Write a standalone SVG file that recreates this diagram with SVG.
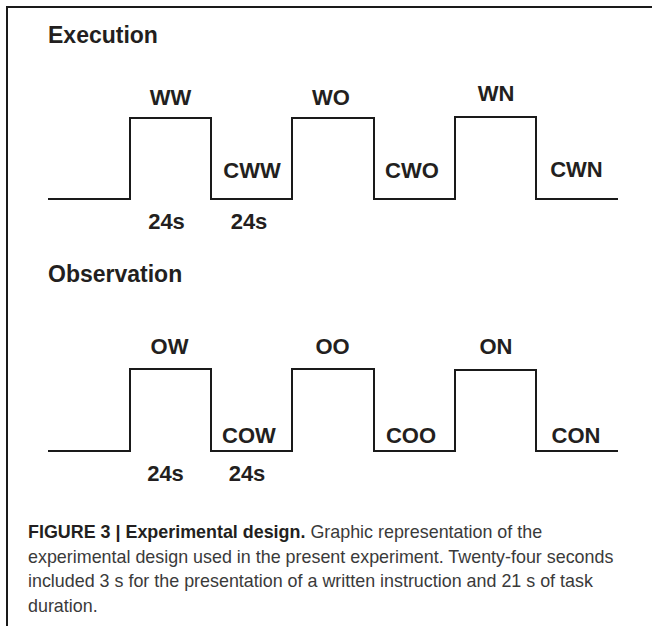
<svg xmlns="http://www.w3.org/2000/svg" width="657" height="626" viewBox="0 0 657 626">
  <style>
    .wave { fill: none; stroke: #1a1a1a; stroke-width: 2; stroke-linejoin: miter; }
    .frame { fill: none; stroke: #1a1a1a; stroke-width: 2; }
    .title { font-family: "Liberation Sans", Arial, Helvetica, sans-serif; font-weight: bold; font-size: 23px; fill: #231f20; }
    .lbl { font-family: "Liberation Sans", Arial, Helvetica, sans-serif; font-weight: bold; font-size: 22px; fill: #231f20; text-anchor: middle; }
    .cap { font-family: "Liberation Sans", Arial, Helvetica, sans-serif; font-size: 17.9px; fill: #3a3a3a; }
    .capb { font-weight: bold; fill: #231f20; }
  </style>
  <rect width="657" height="626" fill="#ffffff"/>
  <path class="frame" d="M7,627 V7 H652"/>

  <g id="execution">
    <text class="title" x="48" y="43">Execution</text>
    <g id="connectors-execution">
      <path class="wave" d="M48,199 H130 V118 H211 V199 H292 V118 H374 V199 H455 V117 H536 V199 H618"/>
    </g>
    <g id="WW"><text class="lbl" x="170.5" y="105">WW</text></g>
    <g id="WO"><text class="lbl" x="331" y="105">WO</text></g>
    <g id="WN"><text class="lbl" x="496" y="101">WN</text></g>
    <g id="CWW"><text class="lbl" x="252" y="178">CWW</text></g>
    <g id="CWO"><text class="lbl" x="412" y="178">CWO</text></g>
    <g id="CWN"><text class="lbl" x="576.5" y="177">CWN</text></g>
    <g id="exec-24s-a"><text class="lbl" x="166.5" y="229">24s</text></g>
    <g id="exec-24s-b"><text class="lbl" x="249" y="229">24s</text></g>
  </g>

  <g id="observation">
    <text class="title" x="48" y="282">Observation</text>
    <g id="connectors-observation">
      <path class="wave" d="M48,451 H130 V369 H211 V451 H292 V369 H374 V451 H455 V370 H536 V451 H618"/>
    </g>
    <g id="OW"><text class="lbl" x="169.5" y="354">OW</text></g>
    <g id="OO"><text class="lbl" x="332.5" y="354">OO</text></g>
    <g id="ON"><text class="lbl" x="496" y="354">ON</text></g>
    <g id="COW"><text class="lbl" x="249" y="443">COW</text></g>
    <g id="COO"><text class="lbl" x="411" y="443">COO</text></g>
    <g id="CON"><text class="lbl" x="576" y="443">CON</text></g>
    <g id="obs-24s-a"><text class="lbl" x="165.5" y="481">24s</text></g>
    <g id="obs-24s-b"><text class="lbl" x="247" y="481">24s</text></g>
  </g>

  <g id="caption">
    <text class="cap" x="28" y="538"><tspan class="capb">FIGURE 3 | Experimental design.</tspan> Graphic representation of the</text>
    <text class="cap" x="28" y="562.5">experimental design used in the present experiment. Twenty-four seconds</text>
    <text class="cap" x="28" y="587">included 3 s for the presentation of a written instruction and 21 s of task</text>
    <text class="cap" x="28" y="611.5">duration.</text>
  </g>
</svg>
